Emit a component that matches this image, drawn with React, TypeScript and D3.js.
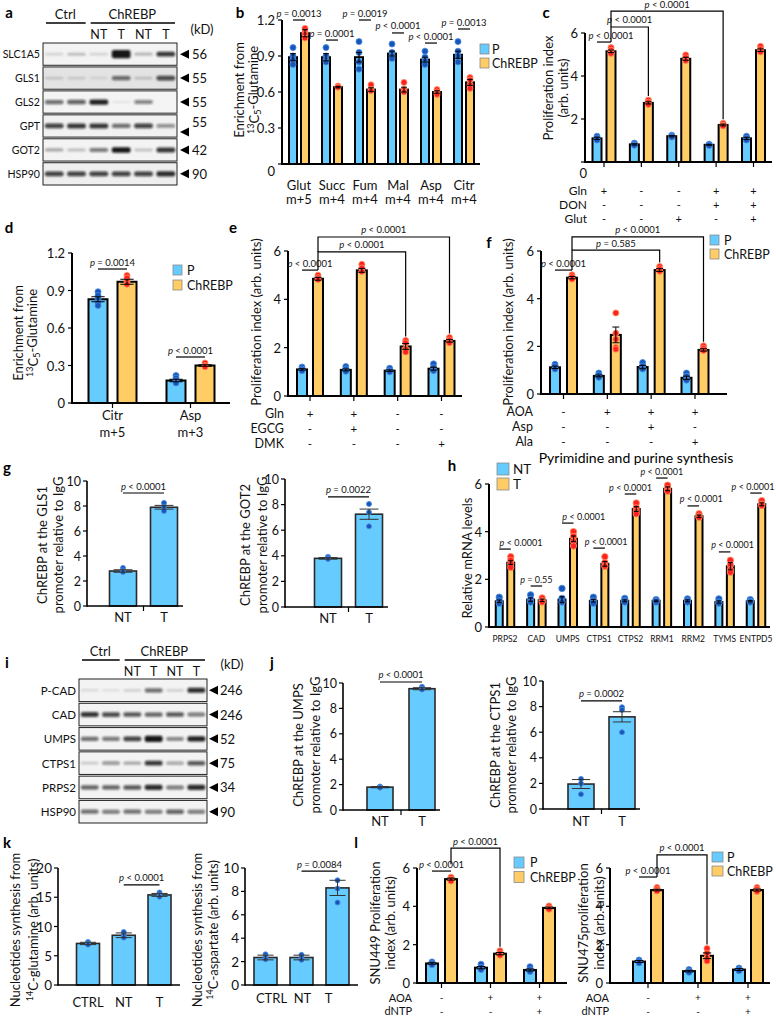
import React from "react";
import * as d3 from "d3";

const FONT = "Lato, 'Noto Sans', 'DejaVu Sans', sans-serif";
const BLUE = "#66ccff";
const ORANGE = "#ffcc66";
const DOT_BLUE = "#1656b8";
const DOT_BLUE_EDGE = "#4a8ae0";
const DOT_RED = "#ff2020";
const DOT_RED_EDGE = "#ff8a5c";

// ================= DATA =================
// Blots (a, i)
const lanes = ["Ctrl 1", "Ctrl 2", "NT 1", "T 1", "NT 2", "T 2"];
const laneLabels = ["", "", "NT", "T", "NT", "T"];
const aProteins = ["SLC1A5", "GLS1", "GLS2", "GPT", "GOT2", "HSP90"];
const aKd = ["56", "55", "55", "55", "42", "90"];
const aBands = [
  [0.1, 0.2, 0.1, 1.9, 0.22, 0.85],
  [0.12, 0.1, 0.06, 0.6, 0.15, 0.75],
  [0.6, 0.65, 0.95, 0.03, 0.5, 0.0],
  [0.8, 0.85, 0.85, 0.6, 0.8, 0.45],
  [0.3, 0.2, 0.55, 1.05, 0.18, 0.85],
  [0.8, 0.8, 0.8, 0.8, 0.8, 0.9],
];
const aBg = ["#f3f3f3", "#e3e3e3", "#f4f4f4", "#f1f1f1", "#f3f3f3", "#efefef"];

const iProteins = ["P-CAD", "CAD", "UMPS", "CTPS1", "PRPS2", "HSP90"];
const iKd = ["246", "246", "52", "75", "34", "90"];
const iBands = [
  [0.08, 0.05, 0.12, 0.6, 0.12, 0.9],
  [0.85, 0.75, 0.7, 0.65, 0.7, 0.55],
  [0.6, 0.55, 0.8, 1.25, 0.5, 0.95],
  [0.15, 0.4, 0.3, 0.85, 0.35, 0.7],
  [0.65, 0.65, 0.7, 0.9, 0.55, 0.9],
  [0.6, 0.55, 0.6, 0.55, 0.65, 0.55],
];
const iBg = ["#f3f3f3", "#f3f3f3", "#f3f3f3", "#f3f3f3", "#f3f3f3", "#f3f3f3"];

// b
const bCats = ["Glut", "Succ", "Fum", "Mal", "Asp", "Citr"];
const bIso = ["m+5", "m+4", "m+4", "m+4", "m+4", "m+4"];
const bPMean = [0.89, 0.89, 0.89, 0.92, 0.87, 0.91];
const bPErr = [0.03, 0.03, 0.04, 0.02, 0.02, 0.03];
const bPDots = [[0.97, 0.9, 0.87, 0.83], [0.97, 0.9, 0.87, 0.85], [1.02, 0.93, 0.85, 0.79], [1.0, 0.93, 0.9, 0.88], [0.94, 0.89, 0.86, 0.83], [1.02, 0.94, 0.9, 0.85]];
const bCMean = [1.09, 0.64, 0.62, 0.62, 0.6, 0.68];
const bCErr = [0.03, 0.005, 0.015, 0.02, 0.01, 0.025];
const bCDots = [[1.13, 1.1, 1.08, 1.05], [0.65, 0.64], [0.66, 0.62, 0.61], [0.68, 0.62, 0.6], [0.62, 0.6, 0.58], [0.72, 0.7, 0.66, 0.63]];
const bPvals = ["= 0.0013", "= 0.0001", "= 0.0019", "< 0.0001", "< 0.0001", "= 0.0013"];
const bPy = [1.2, 1.033, 1.2, 1.092, 1.008, 1.125];

// c
const cConds = ["Gln", "none", "Glut", "Gln+DON", "Gln+DON+Glut"];
const cGln = ["+", "-", "-", "+", "+"];
const cDON = ["-", "-", "-", "+", "+"];
const cGlut = ["-", "-", "+", "-", "+"];
const cPMean = [1.1, 0.82, 1.2, 0.8, 1.1];
const cPErr = [0.05, 0.03, 0.03, 0.02, 0.05];
const cPDots = [[1.2, 1.12, 1.02], [0.88, 0.82, 0.78], [1.25, 1.2, 1.16], [0.83, 0.8, 0.77], [1.2, 1.1, 1.02]];
const cCMean = [5.15, 2.75, 4.8, 1.72, 5.2];
const cCErr = [0.06, 0.05, 0.07, 0.04, 0.06];
const cCDots = [[5.32, 5.2, 5.1, 5.05], [2.88, 2.78, 2.68], [4.98, 4.85, 4.72], [1.8, 1.72, 1.68], [5.38, 5.25, 5.12]];

// d
const dCats = ["Citr", "Asp"];
const dIso = ["m+5", "m+3"];
const dPMean = [0.83, 0.18];
const dPErr = [0.02, 0.01];
const dPDots = [[0.89, 0.86, 0.83, 0.8, 0.78], [0.22, 0.2, 0.18, 0.16]];
const dCMean = [0.97, 0.3];
const dCErr = [0.02, 0.006];
const dCDots = [[1.02, 1.0, 0.97, 0.95], [0.32, 0.3, 0.29]];

// e
const eConds = ["Gln", "Gln+EGCG", "none", "DMK"];
const eGln = ["+", "+", "-", "-"];
const eEGCG = ["-", "+", "-", "-"];
const eDMK = ["-", "-", "-", "+"];
const ePMean = [1.1, 1.08, 1.05, 1.13];
const ePErr = [0.03, 0.04, 0.03, 0.06];
const ePDots = [[1.2, 1.12, 1.05], [1.22, 1.12, 1.02], [1.15, 1.05, 1.0], [1.33, 1.18, 1.05]];
const eCMean = [4.85, 5.2, 2.05, 2.28];
const eCErr = [0.06, 0.08, 0.12, 0.05];
const eCDots = [[5.0, 4.9, 4.82], [5.45, 5.3, 5.15], [2.3, 2.2, 1.95, 1.82], [2.42, 2.32, 2.2]];

// f
const fConds = ["ctrl", "AOA", "AOA+Asp", "AOA+Ala"];
const fAOA = ["-", "+", "+", "+"];
const fAsp = ["-", "-", "+", "-"];
const fAla = ["-", "-", "-", "+"];
const fPMean = [1.12, 0.76, 1.13, 0.68];
const fPErr = [0.05, 0.04, 0.07, 0.07];
const fPDots = [[1.25, 1.15, 1.05], [0.88, 0.8, 0.7], [1.32, 1.18, 1.05], [0.88, 0.75, 0.58]];
const fCMean = [4.88, 2.48, 5.2, 1.85];
const fCErr = [0.05, 0.33, 0.06, 0.05];
const fCDots = [[5.0, 4.92, 4.82], [3.4, 2.55, 2.3, 1.95, 1.88], [5.35, 5.25, 5.15], [2.02, 1.92, 1.82]];

// g
const gCats = ["NT", "T"];
const gGls1Mean = [2.8, 7.9];
const gGls1Err = [0.1, 0.15];
const gGls1Dots = [[3.05, 2.85, 2.72], [8.25, 7.95, 7.6]];
const gGot2Mean = [3.8, 7.25];
const gGot2Err = [0.06, 0.4];
const gGot2Dots = [[3.92, 3.82, 3.75], [8.05, 7.4, 6.3]];

// h
const hGenes = ["PRPS2", "CAD", "UMPS", "CTPS1", "CTPS2", "RRM1", "RRM2", "TYMS", "ENTPD5"];
const hNTMean = [1.08, 1.15, 1.15, 1.1, 1.1, 1.1, 1.1, 1.05, 1.08];
const hNTErr = [0.05, 0.07, 0.12, 0.05, 0.04, 0.03, 0.04, 0.05, 0.03];
const hNTDots = [[1.25, 1.1, 1.0], [1.35, 1.15, 1.05], [1.62, 1.2, 1.05], [1.25, 1.1, 1.0], [1.2, 1.1, 1.05], [1.15, 1.1, 1.05], [1.18, 1.1, 1.05], [1.18, 1.05, 1.0], [1.15, 1.08, 1.05]];
const hTMean = [2.7, 1.12, 3.7, 2.65, 4.95, 5.8, 4.65, 2.55, 5.15];
const hTErr = [0.08, 0.05, 0.12, 0.1, 0.1, 0.08, 0.05, 0.15, 0.06];
const hTDots = [[2.95, 2.8, 2.65, 2.5], [1.22, 1.1, 1.05], [4.0, 3.8, 3.6, 3.4], [2.95, 2.7, 2.55], [5.2, 5.0, 4.85, 4.75], [5.95, 5.8, 5.7], [4.75, 4.65, 4.6], [2.8, 2.6, 2.4, 2.3], [5.3, 5.15, 5.1]];
const hPvals = ["< 0.0001", "= 0.55", "< 0.0001", "< 0.0001", "< 0.0001", "< 0.0001", "< 0.0001", "< 0.0001", "< 0.0001"];
const hPy = [3.27, 1.72, 4.36, 3.31, 5.58, 6.25, 5.08, 3.15, 5.62];

// j
const jUmpsMean = [1.8, 9.55];
const jUmpsErr = [0.05, 0.08];
const jUmpsDots = [[1.85, 1.8, 1.76], [9.7, 9.56, 9.48]];
const jCtps1Mean = [1.95, 7.2];
const jCtps1Err = [0.35, 0.4];
const jCtps1Dots = [[2.35, 2.0, 1.15], [7.95, 7.75, 6.0]];

// k
const kCats = ["CTRL", "NT", "T"];
const kGlnMean = [7.1, 8.5, 15.4];
const kGlnErr = [0.2, 0.4, 0.25];
const kGlnDots = [[7.35, 7.1, 6.9], [9.05, 8.55, 8.1], [15.8, 15.45, 15.1]];
const kAspMean = [2.35, 2.35, 8.3];
const kAspErr = [0.2, 0.2, 0.65];
const kAspDots = [[2.62, 2.38, 2.2], [2.58, 2.35, 2.15], [8.95, 8.25, 7.05]];

// l
const lConds = ["ctrl", "AOA", "AOA+dNTP"];
const lAOA = ["-", "+", "+"];
const lDNTP = ["-", "-", "+"];
const l449PMean = [1.02, 0.8, 0.68];
const l449PErr = [0.04, 0.06, 0.05];
const l449PDots = [[1.1, 1.02, 0.95], [0.98, 0.82, 0.7], [0.85, 0.7, 0.6]];
const l449CMean = [5.42, 1.53, 3.92];
const l449CErr = [0.05, 0.06, 0.04];
const l449CDots = [[5.52, 5.42, 5.32], [1.68, 1.55, 1.45], [4.02, 3.92, 3.85]];
const l475PMean = [1.12, 0.62, 0.7];
const l475PErr = [0.05, 0.04, 0.05];
const l475PDots = [[1.2, 1.12, 1.05], [0.7, 0.62, 0.56], [0.78, 0.7, 0.64]];
const l475CMean = [4.85, 1.42, 4.85];
const l475CErr = [0.04, 0.15, 0.05];
const l475CDots = [[4.98, 4.88, 4.8], [1.8, 1.55, 1.3, 1.15], [4.98, 4.88, 4.78]];

// ================= TYPES / HELPERS =================
type Series = { vals: number[]; errs: number[]; dots: number[][]; fill: string; dot: string; edge: string };
type Ann = { t: "line" | "br"; p: string; a: [number, number]; b: [number, number]; y: number; from?: number; dx?: number };
type Spec = {
  x0: number; x1: number; yZero: number; yTopPx: number; yTopVal: number; ticks: number[];
  cats: string[]; c0: number; c1: number; off: number; barW: number; series: Series[];
  xLabels?: string[][]; xLabelY?: number; xLabelGap?: number; xLabelSize?: number; xLabelDx?: number[];
  xTicks?: "center" | "between" | "none";
  zeroDx?: number; zeroDy?: number; tickSize?: number; tickGap?: number;
  barStroke?: number; barStrokeColor?: string; axisW?: number; dotR?: number; errColor?: string;
  anns?: Ann[]; pSize?: number;
  treat?: { labels: string[]; signs: string[][]; labelX: number; y0: number; dy: number; size?: number };
};

const P = (vals: number[], errs: number[], dots: number[][]): Series => ({ vals, errs, dots, fill: BLUE, dot: DOT_BLUE, edge: DOT_BLUE_EDGE });
const C = (vals: number[], errs: number[], dots: number[][]): Series => ({ vals, errs, dots, fill: ORANGE, dot: DOT_RED, edge: DOT_RED_EDGE });

function PText({ x, y, p, size = 9.5 }: { x: number; y: number; p: string; size?: number }) {
  return (
    <text x={x} y={y} textAnchor="middle" fontSize={size} fontFamily={FONT} fill="#111">
      <tspan fontStyle="italic">p</tspan>
      {" " + p}
    </text>
  );
}

function BarChart({ s }: { s: Spec }) {
  const y = d3.scaleLinear().domain([0, s.yTopVal]).range([s.yZero, s.yTopPx]);
  const x = d3.scalePoint<string>().domain(s.cats).range([s.c0, s.c1]);
  const n = s.series.length;
  const sx = d3.scalePoint<number>().domain(d3.range(n)).range(n > 1 ? [-s.off, s.off] : [0, 0]);
  const cx = (si: number, gi: number) => (x(s.cats[gi]) as number) + (sx(si) as number);
  const topOf = (si: number, gi: number) => {
    const ser = s.series[si];
    return y(Math.max(ser.vals[gi] + ser.errs[gi], ...ser.dots[gi]));
  };
  const sw = s.barStroke ?? 2;
  const sc = s.barStrokeColor ?? "#000";
  const aw = s.axisW ?? 2;
  const r = s.dotR ?? 3;
  const tickSize = s.tickSize ?? 13;
  const tg = s.tickGap ?? 7;
  const ec = s.errColor ?? "#000";
  const step = s.cats.length > 1 ? (x(s.cats[1]) as number) - (x(s.cats[0]) as number) : 0;
  const fmt = (v: number) => (v === 0 ? "0" : Number.isInteger(s.ticks[1]) ? String(v) : v.toFixed(1));
  const tr = s.treat;
  return (
    <g>
      {s.series.map((ser, si) =>
        ser.vals.map((v, gi) => (
          <rect key={`b${si}-${gi}`} x={cx(si, gi) - s.barW / 2} y={y(v)} width={s.barW} height={s.yZero - y(v)}
            fill={ser.fill} stroke={sc} strokeWidth={sw} />
        ))
      )}
      {s.series.map((ser, si) =>
        ser.dots.map((ds, gi) =>
          ds.map((dv, k) => (
            <circle key={`d${si}-${gi}-${k}`} cx={cx(si, gi)} cy={y(dv)} r={r} fill={ser.dot} stroke={ser.edge} strokeWidth={0.9} />
          ))
        )
      )}
      {s.series.map((ser, si) =>
        ser.vals.map((v, gi) => {
          const e = ser.errs[gi];
          const xc = cx(si, gi);
          const cw = s.barW * 0.35;
          return (
            <g key={`e${si}-${gi}`} stroke={ec} strokeWidth={1}>
              <line x1={xc} x2={xc} y1={y(v - e)} y2={y(v + e)} />
              <line x1={xc - cw} x2={xc + cw} y1={y(v + e)} y2={y(v + e)} />
              <line x1={xc - cw} x2={xc + cw} y1={y(v - e)} y2={y(v - e)} />
            </g>
          );
        })
      )}
      <line x1={s.x0} x2={s.x0} y1={s.yZero + aw / 2} y2={y(s.yTopVal)} stroke="#000" strokeWidth={aw} />
      <line x1={s.x0} x2={s.x1} y1={s.yZero} y2={s.yZero} stroke="#000" strokeWidth={aw} />
      {s.ticks.map((t) => (
        <g key={`t${t}`}>
          <line x1={s.x0 - 4} x2={s.x0} y1={y(t)} y2={y(t)} stroke="#000" strokeWidth={1.2} />
          <text x={s.x0 - tg + (t === 0 ? s.zeroDx ?? 0 : 0)} y={y(t) + (t === 0 ? s.zeroDy ?? 0 : 0)} textAnchor="end"
            dominantBaseline="central" fontSize={tickSize} fontFamily={FONT} fill="#111">{fmt(t)}</text>
        </g>
      ))}
      {s.xTicks === "center" &&
        s.cats.map((c) => (
          <line key={`xt${c}`} x1={x(c) as number} x2={x(c) as number} y1={s.yZero} y2={s.yZero + 5} stroke="#000" strokeWidth={1.2} />
        ))}
      {s.xTicks === "between" &&
        s.cats.slice(1).map((c) => {
          const xx = (x(c) as number) - step / 2;
          return <line key={`xb${c}`} x1={xx} x2={xx} y1={s.yZero} y2={s.yZero + 5} stroke="#000" strokeWidth={1.2} />;
        })}
      {s.xLabels &&
        s.xLabels.map((ls, gi) =>
          ls.map((l, li) => (
            <text key={`xl${gi}-${li}`} x={(x(s.cats[gi]) as number) + (s.xLabelDx ? s.xLabelDx[gi] : 0)}
              y={(s.xLabelY ?? 0) + li * (s.xLabelGap ?? 14)} textAnchor="middle" dominantBaseline="central"
              fontSize={s.xLabelSize ?? 13} fontFamily={FONT} fill="#111">{l}</text>
          ))
        )}
      {tr && (
        <g fontFamily={FONT} fill="#111">
          {tr.labels.map((lab, ri) => (
            <g key={`tr${ri}`}>
              <text x={tr.labelX} y={tr.y0 + ri * tr.dy} textAnchor="end" dominantBaseline="central" fontSize={tr.size ?? 12.5}>{lab}</text>
              {tr.signs[ri].map((sg, gi) => (
                <text key={gi} x={x(s.cats[gi]) as number} y={tr.y0 + ri * tr.dy} textAnchor="middle"
                  dominantBaseline="central" fontSize={(tr.size ?? 12.5) - 1}>{sg}</text>
              ))}
            </g>
          ))}
        </g>
      )}
      {s.anns &&
        s.anns.map((a, k) => {
          const xa = cx(a.a[0], a.a[1]);
          const xb = cx(a.b[0], a.b[1]);
          const yy = y(a.y);
          if (a.t === "line") {
            return (
              <g key={`an${k}`}>
                <line x1={xa} x2={xb} y1={yy} y2={yy} stroke="#000" strokeWidth={1.2} />
                <PText x={(xa + xb) / 2 + (a.dx ?? 0)} y={yy - 3.5} p={a.p} size={s.pSize ?? 9.5} />
              </g>
            );
          }
          const yb = topOf(a.b[0], a.b[1]) - 4;
          return (
            <g key={`an${k}`}>
              <path d={`M${xa},${y(a.from ?? a.y)}V${yy}H${xb}V${yb}`} fill="none" stroke="#000" strokeWidth={1.2} />
              <PText x={(xa + xb) / 2 + (a.dx ?? 0)} y={yy - 3.5} p={a.p} size={s.pSize ?? 9.5} />
            </g>
          );
        })}
    </g>
  );
}

function Legend({ x, y, items, box = [9, 10], gap = 14, size = 12.5, tx }: { x: number; y: number; items: { label: string; fill: string }[]; box?: number[]; gap?: number; size?: number; tx: number }) {
  return (
    <g>
      {items.map((it, i) => (
        <g key={i}>
          <rect x={x} y={y + i * gap} width={box[0]} height={box[1]} fill={it.fill} stroke="#8a8a8a" strokeWidth={0.8} />
          <text x={tx} y={y + i * gap + box[1] / 2} dominantBaseline="central" fontSize={size} fontFamily={FONT} fill="#111">{it.label}</text>
        </g>
      ))}
    </g>
  );
}

function YTitle({ lines, xs, cy, size = 13 }: { lines: React.ReactNode[]; xs: number[]; cy: number; size?: number }) {
  return (
    <g>
      {lines.map((l, i) => (
        <text key={i} transform={`translate(${xs[i]},${cy}) rotate(-90)`} textAnchor="middle" dominantBaseline="central"
          fontSize={size} fontFamily={FONT} fill="#111">{l}</text>
      ))}
    </g>
  );
}

const Glut13 = (
  <>
    <tspan fontSize="0.7em" dy="-0.35em">13</tspan>
    <tspan dy="0.35em">C</tspan>
    <tspan fontSize="0.7em" dy="0.25em">5</tspan>
    <tspan dy="-0.25em">-Glutamine</tspan>
  </>
);
const C14 = (rest: string) => (
  <>
    <tspan fontSize="0.7em" dy="-0.35em">14</tspan>
    <tspan dy="0.35em">{"C-" + rest}</tspan>
  </>
);

function Blot({ name, box, rows, kd, bands, bg, hdr, arrowX, numX, labelSize = 11, kdSize = 13, kdDy = [], arrowDy = [] }: any) {
  const lx = d3.scaleBand().domain(lanes).range([box.x0, box.x1]);
  const ry = d3.scaleBand().domain(rows).range([box.y0, box.y1]).paddingInner(0.07);
  const bw = lx.bandwidth();
  const h = ry.bandwidth();
  const L = (i: number) => lx(lanes[i]) as number;
  return (
    <g fontFamily={FONT} fill="#111">
      <line x1={L(0) + 3} x2={L(1) + bw - 2} y1={hdr.lineY} y2={hdr.lineY} stroke="#000" strokeWidth={1.3} />
      <text x={(L(0) + L(1) + bw) / 2} y={hdr.textY} textAnchor="middle" dominantBaseline="central" fontSize={13}>Ctrl</text>
      <line x1={L(2) + 3} x2={L(5) + bw - 2} y1={hdr.lineY} y2={hdr.lineY} stroke="#000" strokeWidth={1.3} />
      <text x={(L(2) + L(5) + bw) / 2} y={hdr.textY} textAnchor="middle" dominantBaseline="central" fontSize={13}>ChREBP</text>
      {laneLabels.map((l, i) => (
        <text key={i} x={L(i) + bw / 2} y={hdr.laneY} textAnchor="middle" dominantBaseline="central" fontSize={12.5}>{l}</text>
      ))}
      <text x={hdr.kdX} y={hdr.kdY} textAnchor="middle" dominantBaseline="central" fontSize={13}>(kD)</text>
      {rows.map((r: string, ri: number) => {
        const y0 = ry(r) as number;
        const cy = y0 + h / 2;
        const ay = cy + (arrowDy[ri] ?? 0);
        return (
          <g key={r}>
            <clipPath id={`${name}-clip-${ri}`}>
              <rect x={box.x0} y={y0} width={box.x1 - box.x0} height={h} />
            </clipPath>
            <rect x={box.x0} y={y0} width={box.x1 - box.x0} height={h} fill={bg[ri]} />
            <g clipPath={`url(#${name}-clip-${ri})`}>
              <g filter="url(#blur)">
                {bands[ri].map((v: number, li: number) =>
                  v > 0 ? (
                    <rect key={li} x={L(li) + bw * 0.08} width={bw * 0.84} y={cy - (2.4 + 3 * v) / 2} height={2.4 + 3 * v}
                      rx={2} fill="#111" opacity={Math.min(1, v) * 0.92 + 0.04} />
                  ) : null
                )}
              </g>
            </g>
            <rect x={box.x0} y={y0} width={box.x1 - box.x0} height={h} fill="none" stroke="#222" strokeWidth={1} />
            <text x={box.x0 - 3} y={cy} textAnchor="end" dominantBaseline="central" fontSize={labelSize}>{r}</text>
            <polygon points={`${arrowX},${ay} ${arrowX + 9},${ay - 4.5} ${arrowX + 9},${ay + 4.5}`} fill="#000" />
            <text x={numX} y={cy + (kdDy[ri] ?? 0)} dominantBaseline="central" fontSize={kdSize}>{kd[ri]}</text>
          </g>
        );
      })}
    </g>
  );
}

// ================= SPECS =================
const legPC = [{ label: "P", fill: BLUE }, { label: "ChREBP", fill: ORANGE }];
const legNT = [{ label: "NT", fill: BLUE }, { label: "T", fill: ORANGE }];

const specB: Spec = {
  x0: 282, x1: 480, yZero: 164, yTopPx: 20, yTopVal: 1.2, ticks: [0, 0.3, 0.6, 0.9, 1.2],
  cats: bCats, c0: 299, c1: 464, off: 6, barW: 8,
  series: [P(bPMean, bPErr, bPDots), C(bCMean, bCErr, bCDots)],
  xLabels: bCats.map((c, i) => [c, bIso[i]]), xLabelY: 185, xLabelGap: 14, zeroDy: 7,
  anns: bCats.map((_, i) => ({ t: "line", p: bPvals[i], a: [0, i], b: [1, i], y: bPy[i] } as Ann)),
};

const specC: Spec = {
  x0: 585, x1: 772, yZero: 162, yTopPx: 33, yTopVal: 6, ticks: [0, 2, 4, 6],
  cats: cConds, c0: 604, c1: 753.5, off: 7, barW: 9,
  series: [P(cPMean, cPErr, cPDots), C(cCMean, cCErr, cCDots)],
  xTicks: "center", zeroDx: 9, zeroDy: 11,
  treat: { labels: ["Gln", "DON", "Glut"], signs: [cGln, cDON, cGlut], labelX: 587, y0: 190, dy: 14, size: 12 },
  anns: [
    { t: "line", p: "< 0.0001", a: [0, 0], b: [1, 0], y: 5.58, dx: 7 },
    { t: "br", p: "< 0.0001", a: [1, 0], b: [1, 1], y: 6.28, from: 5.58 },
    { t: "br", p: "< 0.0001", a: [1, 0], b: [1, 3], y: 7.02, from: 6.28 },
  ],
};

const specD: Spec = {
  x0: 72, x1: 230, yZero: 403, yTopPx: 253, yTopVal: 1.2, ticks: [0, 0.3, 0.6, 0.9, 1.2],
  cats: dCats, c0: 112.5, c1: 190.5, off: 14.5, barW: 19,
  series: [P(dPMean, dPErr, dPDots), C(dCMean, dCErr, dCDots)],
  xLabels: dCats.map((c, i) => [c, dIso[i]]), xLabelY: 415, xLabelGap: 17, xTicks: "center",
  anns: [
    { t: "line", p: "= 0.0014", a: [0, 0], b: [1, 0], y: 1.072 },
    { t: "line", p: "< 0.0001", a: [0, 1], b: [1, 1], y: 0.368 },
  ],
};

const specE: Spec = {
  x0: 288, x1: 462, yZero: 396, yTopPx: 251, yTopVal: 6, ticks: [0, 2, 4, 6],
  cats: eConds, c0: 310, c1: 441.5, off: 8, barW: 10,
  series: [P(ePMean, ePErr, ePDots), C(eCMean, eCErr, eCDots)],
  xTicks: "center",
  treat: { labels: ["Gln", "EGCG", "DMK"], signs: [eGln, eEGCG, eDMK], labelX: 284, y0: 413, dy: 15, size: 12.5 },
  anns: [
    { t: "line", p: "< 0.0001", a: [0, 0], b: [1, 0], y: 5.21 },
    { t: "br", p: "< 0.0001", a: [1, 0], b: [1, 2], y: 5.96, from: 5.21 },
    { t: "br", p: "< 0.0001", a: [1, 0], b: [1, 3], y: 6.58, from: 5.96 },
  ],
};

const specF: Spec = {
  x0: 541, x1: 727, yZero: 394, yTopPx: 251, yTopVal: 6, ticks: [0, 2, 4, 6],
  cats: fConds, c0: 563.5, c1: 695, off: 8.5, barW: 10,
  series: [P(fPMean, fPErr, fPDots), C(fCMean, fCErr, fCDots)],
  xTicks: "center",
  treat: { labels: ["AOA", "Asp", "Ala"], signs: [fAOA, fAsp, fAla], labelX: 533, y0: 411, dy: 15, size: 12.5 },
  anns: [
    { t: "line", p: "< 0.0001", a: [0, 0], b: [1, 0], y: 5.2 },
    { t: "br", p: "= 0.585", a: [1, 0], b: [1, 2], y: 6.04, from: 5.2 },
    { t: "br", p: "< 0.0001", a: [1, 0], b: [1, 3], y: 6.59, from: 6.04 },
  ],
};

const single = (vals: number[], errs: number[], dots: number[][]): Series => ({ vals, errs, dots, fill: BLUE, dot: DOT_BLUE, edge: DOT_BLUE_EDGE });
const thin = { barStroke: 1.6, barStrokeColor: "#2a2a2a", axisW: 1.6, dotR: 2.5, errColor: "#333", tickSize: 12.5, tickGap: 6 };

const specG1: Spec = {
  ...thin, x0: 87, x1: 183, yZero: 606, yTopPx: 481, yTopVal: 10, ticks: [0, 2, 4, 6, 8, 10],
  cats: gCats, c0: 123, c1: 164, off: 0, barW: 27, series: [single(gGls1Mean, gGls1Err, gGls1Dots)],
  xTicks: "between", xLabels: gCats.map((c) => [c]), xLabelY: 617,
  anns: [{ t: "line", p: "< 0.0001", a: [0, 0], b: [0, 1], y: 9.04 }],
};
const specG2: Spec = {
  ...thin, x0: 285, x1: 388, yZero: 607, yTopPx: 479, yTopVal: 10, ticks: [0, 2, 4, 6, 8, 10],
  cats: gCats, c0: 328, c1: 369, off: 0, barW: 27, series: [single(gGot2Mean, gGot2Err, gGot2Dots)],
  xTicks: "between", xLabels: gCats.map((c) => [c]), xLabelY: 618,
  anns: [{ t: "line", p: "= 0.0022", a: [0, 0], b: [0, 1], y: 8.6 }],
};

const hDx = [16, 0, 16, 7, 0, 0, 8, 8, -3];
const specH: Spec = {
  x0: 489, x1: 770, yZero: 627, yTopPx: 484, yTopVal: 6, ticks: [0, 2, 4, 6],
  cats: hGenes, c0: 505, c1: 756, off: 5.75, barW: 7,
  series: [P(hNTMean, hNTErr, hNTDots), C(hTMean, hTErr, hTDots)],
  xLabels: hGenes.map((g) => [g]), xLabelY: 639, xLabelSize: 8.5, dotR: 3.2, pSize: 9,
  anns: hGenes.map((_, i) => ({ t: "line", p: hPvals[i], a: [0, i], b: [1, i], y: hPy[i], dx: hDx[i] } as Ann)),
};

const specJ1: Spec = {
  ...thin, x0: 343, x1: 440, yZero: 810, yTopPx: 683, yTopVal: 10, ticks: [0, 2, 4, 6, 8, 10],
  cats: gCats, c0: 380, c1: 422, off: 0, barW: 26, series: [single(jUmpsMean, jUmpsErr, jUmpsDots)],
  xTicks: "between", xLabels: gCats.map((c) => [c]), xLabelY: 821,
  anns: [{ t: "line", p: "< 0.0001", a: [0, 0], b: [0, 1], y: 10.08 }],
};
const specJ2: Spec = {
  ...thin, x0: 543, x1: 640, yZero: 809, yTopPx: 681, yTopVal: 10, ticks: [0, 2, 4, 6, 8, 10],
  cats: gCats, c0: 581, c1: 622, off: 0, barW: 26, series: [single(jCtps1Mean, jCtps1Err, jCtps1Dots)],
  xTicks: "between", xLabels: gCats.map((c) => [c]), xLabelY: 821,
  anns: [{ t: "line", p: "= 0.0002", a: [0, 0], b: [0, 1], y: 8.44 }],
};

const specK1: Spec = {
  ...thin, x0: 58, x1: 180, yZero: 985, yTopPx: 868, yTopVal: 20, ticks: [0, 5, 10, 15, 20],
  cats: kCats, c0: 88, c1: 159.5, off: 0, barW: 23, series: [single(kGlnMean, kGlnErr, kGlnDots)],
  xLabels: kCats.map((c) => [c]), xLabelY: 1002, tickSize: 13.5,
  anns: [{ t: "line", p: "< 0.0001", a: [0, 1], b: [0, 2], y: 17.1 }],
};
const specK2: Spec = {
  ...thin, x0: 245, x1: 358, yZero: 985, yTopPx: 868, yTopVal: 10, ticks: [0, 2, 4, 6, 8, 10],
  cats: kCats, c0: 265.5, c1: 337.5, off: 0, barW: 23, series: [single(kAspMean, kAspErr, kAspDots)],
  xLabels: kCats.map((c) => [c]), xLabelY: 998, xLabelDx: [6, 1, -9], tickSize: 13.5,
  anns: [{ t: "line", p: "= 0.0084", a: [0, 1], b: [0, 2], y: 9.74 }],
};

const specL1: Spec = {
  x0: 417, x1: 567, yZero: 983, yTopPx: 868, yTopVal: 6, ticks: [0, 2, 4, 6],
  cats: lConds, c0: 441.5, c1: 539.5, off: 9.5, barW: 12,
  series: [P(l449PMean, l449PErr, l449PDots), C(l449CMean, l449CErr, l449CDots)],
  xTicks: "center",
  treat: { labels: ["AOA", "dNTP"], signs: [lAOA, lDNTP], labelX: 412, y0: 997, dy: 13.5, size: 11 },
  anns: [
    { t: "line", p: "< 0.0001", a: [0, 0], b: [1, 0], y: 5.84 },
    { t: "br", p: "< 0.0001", a: [1, 0], b: [1, 1], y: 7.04, from: 6.2 },
  ],
};
const specL2: Spec = {
  x0: 610, x1: 770, yZero: 983, yTopPx: 868, yTopVal: 6, ticks: [0, 2, 4, 6],
  cats: lConds, c0: 648, c1: 748, off: 9, barW: 12,
  series: [P(l475PMean, l475PErr, l475PDots), C(l475CMean, l475CErr, l475CDots)],
  xTicks: "center",
  treat: { labels: ["AOA", "dNTP"], signs: [lAOA, lDNTP], labelX: 609, y0: 997, dy: 13.5, size: 11 },
  anns: [
    { t: "line", p: "< 0.0001", a: [0, 0], b: [1, 0], y: 5.53 },
    { t: "br", p: "< 0.0001", a: [1, 0], b: [1, 1], y: 6.68, from: 5.53 },
  ],
};

const panelLetters: [string, number, number][] = [
  ["a", 9, 12], ["b", 240, 12], ["c", 546, 12], ["d", 9, 227], ["e", 233, 227], ["f", 489, 242],
  ["g", 7, 467], ["h", 452, 465], ["i", 7, 662], ["j", 272, 662], ["k", 7, 842], ["l", 356, 842],
];

export default function App() {
  return (
    <svg width={776} height={1019} style={{ position: "absolute", left: 0, top: 0, display: "block", background: "#fff" }}>
      <defs>
        <filter id="blur" x="-30%" y="-150%" width="160%" height="400%">
          <feGaussianBlur stdDeviation="1.1" />
        </filter>
      </defs>
      <rect width={776} height={1019} fill="#fff" />
      {panelLetters.map(([l, x, y]) => (
        <text key={l} x={x} y={y} dominantBaseline="central" textAnchor="middle" fontWeight="bold" fontSize={15} fontFamily={FONT}>{l}</text>
      ))}

      <Blot name="a" box={{ x0: 43, x1: 177, y0: 43, y1: 185 }} rows={aProteins} kd={aKd} bands={aBands} bg={aBg} labelSize={10.6}
        hdr={{ lineY: 23, textY: 14, laneY: 34, kdX: 202, kdY: 29 }} arrowX={180} numX={192} kdDy={[0, 0, 0, -4, 0, 0]} arrowDy={[0, 0, 0, 6, 0, 0]} />

      <BarChart s={specB} />
      <YTitle lines={["Enrichment from", Glut13]} xs={[239, 253]} cy={90} />
      <Legend x={480} y={44} items={legPC} tx={492} />

      <BarChart s={specC} />
      <YTitle lines={["Proliferation index", "(arb. units)"]} xs={[548, 563]} cy={88} />

      <BarChart s={specD} />
      <YTitle lines={["Enrichment from", Glut13]} xs={[18, 32]} cy={333} />
      <Legend x={173} y={265} items={legPC} tx={187} gap={15} />

      <BarChart s={specE} />
      <YTitle lines={["Proliferation index (arb. units)"]} xs={[256]} cy={322} />

      <BarChart s={specF} />
      <YTitle lines={["Proliferation index (arb. units)"]} xs={[508]} cy={322} />
      <Legend x={710} y={235} items={legPC} tx={724} />

      <BarChart s={specG1} />
      <YTitle lines={["ChREBP at  the GLS1", "promoter relative to IgG"]} xs={[42, 58]} cy={545} />
      <BarChart s={specG2} />
      <YTitle lines={["ChREBP at  the GOT2", "promoter relative to IgG"]} xs={[245, 262]} cy={545} />

      <text x={636} y={457} textAnchor="middle" dominantBaseline="central" fontSize={14} fontFamily={FONT}>Pyrimidine and purine synthesis</text>
      <BarChart s={specH} />
      <YTitle lines={["Relative mRNA levels"]} xs={[467]} cy={558} />
      <Legend x={497} y={463} items={legNT} tx={513} box={[12, 12]} gap={15} size={13.5} />

      <Blot name="i" box={{ x0: 79, x1: 207, y0: 679, y1: 823 }} rows={iProteins} kd={iKd} bands={iBands} bg={iBg} labelSize={11.5}
        hdr={{ lineY: 660, textY: 651, laneY: 671, kdX: 232, kdY: 664 }} arrowX={209} numX={220} />

      <BarChart s={specJ1} />
      <YTitle lines={["ChREBP at  the UMPS", "promoter relative to IgG"]} xs={[298, 315]} cy={745} />
      <BarChart s={specJ2} />
      <YTitle lines={["ChREBP at  the CTPS1", "promoter relative to IgG"]} xs={[495, 511]} cy={745} />

      <BarChart s={specK1} />
      <YTitle lines={["Nucleotides synthesis from", C14("glutamine (arb. units)")]} xs={[15, 32]} cy={930} />
      <BarChart s={specK2} />
      <YTitle lines={["Nucleotides synthesis from", C14("aspartate (arb. units)")]} xs={[197, 212]} cy={930} />

      <BarChart s={specL1} />
      <YTitle lines={["SNU449 Proliferation", "index (arb. units)"]} xs={[375, 390]} cy={923} />
      <Legend x={514} y={857} items={legPC} tx={530} box={[10, 11]} gap={14.5} size={12.5} />
      <BarChart s={specL2} />
      <YTitle lines={["SNU475proliferation", "index (arb. units)"]} xs={[583, 599]} cy={923} />
      <Legend x={712} y={852} items={legPC} tx={727} box={[11, 10]} gap={14} size={12.5} />
    </svg>
  );
}
